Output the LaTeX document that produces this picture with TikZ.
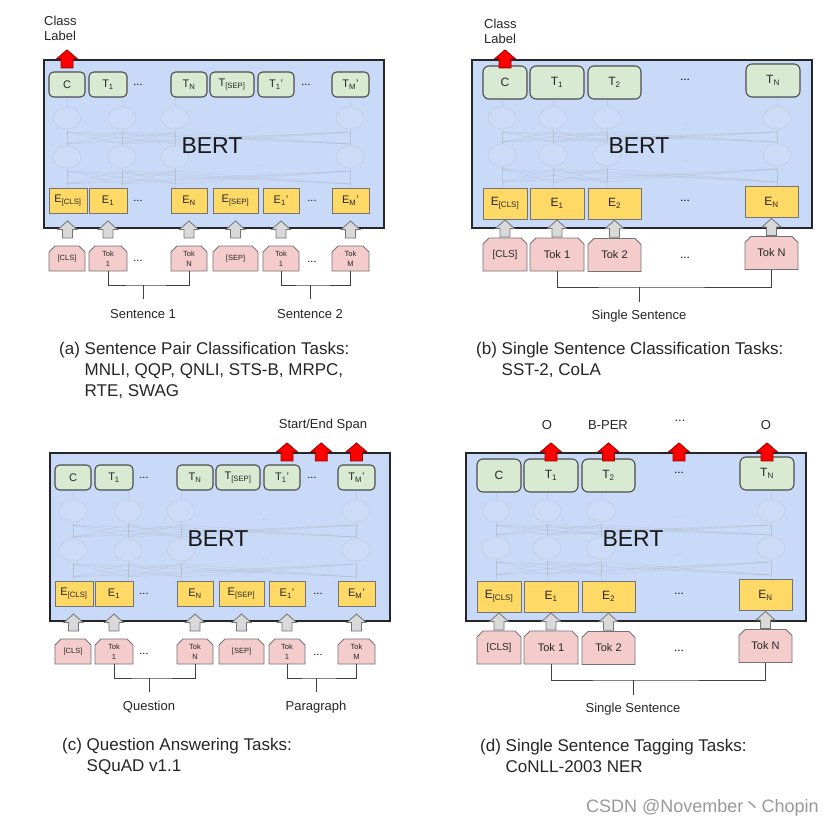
\documentclass[tikz,border=0pt]{standalone}
\usepackage{fontspec}
\setmainfont{Liberation Sans}
\newfontfamily\cjkfont{Noto Sans CJK SC}
\usetikzlibrary{calc,shapes.misc}

\definecolor{bertblue}{HTML}{C9DAF8}
\definecolor{outgreen}{HTML}{D9EAD3}
\definecolor{embyellow}{HTML}{FFD966}
\definecolor{tokpink}{HTML}{F4CCCC}
\definecolor{arrowgray}{HTML}{D9D9D9}

\tikzset{
  bertbox/.style={draw=black!85, line width=2.2pt, fill=bertblue, minimum width=340pt, minimum height=168pt},
  berttext/.style={font=\fontsize{23}{26}\selectfont, text=black!90},
  netcell/.style={draw=black!30, draw opacity=0.3, fill=white, fill opacity=0.06, line width=0.8pt},
  netline/.style={draw=black!40, draw opacity=0.2, line width=0.6pt},
  netdots/.style={font=\fontsize{8}{8}\selectfont, text=black!25},
  outbox/.style={draw=black!70, line width=1.1pt, fill=outgreen, rounded corners=4.5pt, inner sep=0pt, text=black!85},
  embbox/.style={draw=black!55, line width=0.9pt, fill=embyellow, inner sep=0pt, text=black!85},
  inbox/.style={chamfered rectangle, chamfered rectangle corners={north west,north east},
    chamfered rectangle xsep=3pt, chamfered rectangle ysep=3pt, draw=black!55, line width=0.9pt, fill=tokpink,
    inner sep=0pt, align=center, text=black!85},
  pairfont/.style={font=\fontsize{11}{13}\selectfont},
  pairtok/.style={font=\fontsize{7.5}{10}\selectfont},
  singlefont/.style={font=\fontsize{12}{14}\selectfont},
  singletok/.style={font=\fontsize{11}{13}\selectfont},
  labelfont/.style={font=\fontsize{13}{15}\selectfont, text=black!85},
  captionfont/.style={font=\fontsize{17}{21}\selectfont, text=black!85},
  watermark/.style={font=\fontsize{18}{20}\selectfont, text=black!40},
  bracket/.style={draw=black!75, line width=1pt},
  pics/grayup/.style={code={\draw[draw=black!55, fill=arrowgray, line width=0.8pt]
    (-5,8.5) -- (-5,0) -- (-9.5,0) -- (0,-8.5) -- (9.5,0) -- (5,0) -- (5,8.5) -- cycle;}},
  pics/redup/.style={code={\draw[draw=red!60!black, fill=red, line width=0.8pt]
    (-6,9) -- (-6,0) -- (-10.5,0) -- (0,-9) -- (10.5,0) -- (6,0) -- (6,9) -- cycle;}},
}

% panel with two segments: #1 prefix, #2 and #3 segment names
\newcommand{\pairpanel}[3]{%
  \node[bertbox] (#1bert) at (170,84) {};
  \foreach \xa in {23,78,131,306} {
    \draw[netline] (\xa,37) -- (\xa,47) (\xa,69) -- (\xa,86) (\xa,108) -- (\xa,128);
    \foreach \xb in {23,78,131,306}
      \draw[netline] (\xa,72) -- (\xb,84) (\xa,111) -- (\xb,124);
    \draw[netcell] (\xa,58) ellipse (14pt and 11pt) (\xa,97) ellipse (14pt and 11pt);
  }
  \node[netdots] at (216,67) {...};
  \node[netdots] at (216,106) {...};
  \node[berttext] (#1name) at (168,86) {BERT};
  % outputs
  \foreach \n/\x/\w/\lab in {c/23/36pt/C, 1/64/38pt/T\textsubscript{1}, n/145/36pt/T\textsubscript{N},
      sep/188/44pt/T\textsubscript{[SEP]}, p1/232/36pt/T\textsubscript{1}', pm/306.5/37pt/T\textsubscript{M}'}
    \node[outbox, pairfont, minimum width=\w, minimum height=25pt] (#1o\n) at (\x,24.5) {\lab};
  \node[pairfont] (#1odots1) at (94,24.5) {...};
  \node[pairfont] (#1odots2) at (262,24.5) {...};
  % embeddings
  \foreach \n/\x/\w/\lab in {cls/24/38pt/E\textsubscript{[CLS]}, 1/64/38pt/E\textsubscript{1}, n/145/36pt/E\textsubscript{N},
      sep/191.5/45pt/E\textsubscript{[SEP]}, p1/237/36pt/E\textsubscript{1}', pm/306.5/37pt/E\textsubscript{M}'}
    \node[embbox, pairfont, minimum width=\w, minimum height=25pt] (#1e\n) at (\x,140.5) {\lab};
  \node[pairfont] (#1edots1) at (94,140.5) {...};
  \node[pairfont] (#1edots2) at (268,140.5) {...};
  % inputs
  \foreach \n/\x/\w/\lab in {cls/23/36pt/[CLS], 1/64/38pt/Tok\\1, n/145/36pt/Tok\\N,
      sep/191.5/45pt/[SEP], p1/237/36pt/Tok\\1, pm/306.5/37pt/Tok\\M}
    \node[inbox, pairtok, minimum width=\w, minimum height=25pt] (#1i\n) at (\x,198.5) {\lab};
  \node[pairfont] (#1idots1) at (94,201) {...};
  \node[pairfont] (#1idots2) at (268,202) {...};
  \foreach \n in {cls,1,n,sep,p1,pm}
    \pic at ($(#1i\n.north)!0.5!(#1e\n.south)$) {grayup};
  % segments
  \node[labelfont] (#1left) at (99,254) {#2};
  \node[labelfont] (#1right) at (266,254) {#3};
  \coordinate (#1lj) at (99,225);
  \coordinate (#1rj) at (266,225);
  \draw[bracket] (#1i1.south) |- (#1lj) -| (#1in.south);
  \draw[bracket] (#1lj) -- ++(0,14);
  \draw[bracket] (#1ip1.south) |- (#1rj) -| (#1ipm.south);
  \draw[bracket] (#1rj) -- ++(0,14);
}

% panel with one sentence: #1 prefix
\newcommand{\singlepanel}[1]{%
  \node[bertbox] (#1bert) at (170,84) {};
  \foreach \xa in {30,81,135,305} {
    \draw[netline] (\xa,39) -- (\xa,47) (\xa,69) -- (\xa,84) (\xa,106) -- (\xa,128);
    \foreach \xb in {30,81,135,305}
      \draw[netline] (\xa,72) -- (\xb,82) (\xa,109) -- (\xb,122);
    \draw[netcell] (\xa,58) ellipse (14pt and 11pt) (\xa,95) ellipse (14pt and 11pt);
  }
  \node[netdots] at (213,64) {...};
  \node[netdots] at (213,102) {...};
  \node[berttext] (#1name) at (167,86) {BERT};
  % outputs
  \foreach \n/\x/\y/\w/\lab in {c/33/22.5/44pt/C, 1/85/22.5/54pt/T\textsubscript{1},
      2/142.5/22.5/53pt/T\textsubscript{2}, n/301/20.5/54pt/T\textsubscript{N}}
    \node[outbox, singlefont, minimum width=\w, minimum height=33pt, rounded corners=6pt] (#1o\n) at (\x,\y) {\lab};
  \node[singlefont] (#1odots) at (213,20) {...};
  % embeddings
  \foreach \n/\x/\y/\w/\lab in {cls/33/143.5/44pt/E\textsubscript{[CLS]}, 1/85/143.5/54pt/E\textsubscript{1},
      2/142.5/143.5/53pt/E\textsubscript{2}, n/299.5/142/53pt/E\textsubscript{N}}
    \node[embbox, singlefont, minimum width=\w, minimum height=31pt] (#1e\n) at (\x,\y) {\lab};
  \node[singlefont] (#1edots) at (213,141) {...};
  % inputs
  \foreach \n/\x/\y/\w/\lab in {cls/33/194.5/44pt/{\fontsize{10}{12}\selectfont[CLS]}, 1/85/194.5/54pt/Tok 1,
      2/142.5/195/53pt/Tok 2, n/299.5/193/53pt/Tok N}
    \node[inbox, singletok, minimum width=\w, minimum height=33pt] (#1i\n) at (\x,\y) {\lab};
  \node[singlefont] (#1idots) at (213,198) {...};
  \foreach \n in {cls,1,2,n}
    \pic at ($(#1i\n.north)!0.5!(#1e\n.south)$) {grayup};
  % sentence
  \node[labelfont] (#1sent) at (167,256) {Single Sentence};
  \coordinate (#1j) at (167,227);
  \draw[bracket] (#1i1.south) |- (#1j) -| (#1in.south);
  \draw[bracket] (#1j) -- ++(0,15);
}

\begin{document}
\begin{tikzpicture}[x=1pt, y=-1pt]
  \fill[white] (0,0) rectangle (840,829);
  \useasboundingbox (0,0) rectangle (840,829);

  % (a) sentence pair classification
  \begin{scope}[shift={(44,60)}]
    \pairpanel{a-}{Sentence 1}{Sentence 2}
  \end{scope}
  \node[labelfont, align=left, anchor=west, inner sep=0pt] (a-class) at (44,28.5) {Class\\Label};
  \pic at (a-oc |- a-bert.north) {redup};
  \node[captionfont, align=left, anchor=north west, inner sep=0pt] (a-caption) at (59,341.5)
    {(a) Sentence Pair Classification Tasks:\\\phantom{(a) }MNLI, QQP, QNLI, STS-B, MRPC,\\\phantom{(a) }RTE, SWAG};

  % (b) single sentence classification
  \begin{scope}[shift={(472,60)}]
    \singlepanel{b-}
  \end{scope}
  \node[labelfont, align=left, anchor=west, inner sep=0pt] (b-class) at (484,31) {Class\\Label};
  \pic at (b-oc |- b-bert.north) {redup};
  \node[captionfont, align=left, anchor=north west, inner sep=0pt] (b-caption) at (476,341.5)
    {(b) Single Sentence Classification Tasks:\\\phantom{(b) }SST-2, CoLA};

  % (c) question answering
  \begin{scope}[shift={(50,453)}]
    \pairpanel{c-}{Question}{Paragraph}
  \end{scope}
  \node[labelfont] (c-span) at (323,425) {Start/End Span};
  \pic at ($(c-op1 |- c-bert.north)+(5,0)$) {redup};
  \pic at ($(c-op1 |- c-bert.north)!0.5!(c-opm |- c-bert.north)+(2,0)$) {redup};
  \pic at (c-opm |- c-bert.north) {redup};
  \node[captionfont, align=left, anchor=north west, inner sep=0pt] (c-caption) at (62,737.5)
    {(c) Question Answering Tasks:\\\phantom{(c) }SQuAD v1.1};

  % (d) single sentence tagging
  \begin{scope}[shift={(466,453)}]
    \singlepanel{d-}
  \end{scope}
  \node[labelfont] (d-tag1) at (547,425) {O};
  \node[labelfont] (d-tag2) at (608,425) {B-PER};
  \node[labelfont] (d-tag3) at (680,421) {...};
  \node[labelfont] (d-tag4) at (766,425) {O};
  \foreach \n in {1,2,dots,n}
    \pic at (d-o\n |- d-bert.north) {redup};
  \node[captionfont, align=left, anchor=north west, inner sep=0pt] (d-caption) at (480,738.5)
    {(d) Single Sentence Tagging Tasks:\\\phantom{(d) }CoNLL-2003 NER};

  \node[watermark, anchor=west, inner sep=0pt] (wm) at (586,808) {CSDN @November{\cjkfont 丶}Chopin};
\end{tikzpicture}
\end{document}
